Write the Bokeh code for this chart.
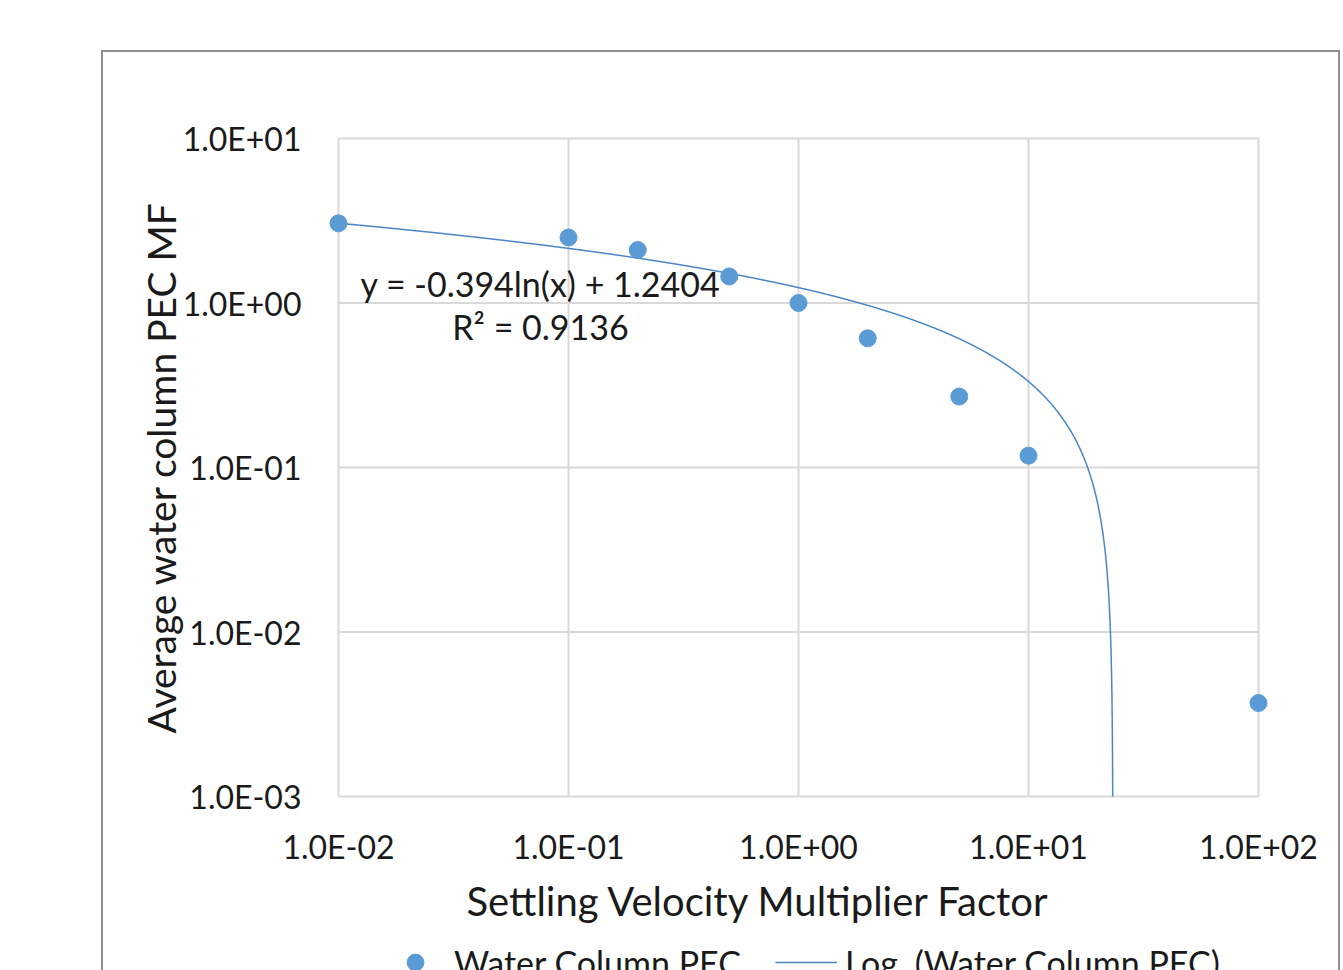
import numpy as np
from bokeh.plotting import figure
from bokeh.layouts import column
from bokeh.models import Range1d, FixedTicker, Legend, LegendItem, Label, Title
from bokeh.embed import file_html
from bokeh.resources import INLINE

# ---- data ----
multiplier = [0.01, 0.1, 0.2, 0.5, 1.0, 2.0, 5.0, 10.0, 100.0]
pec_mf = [3.05, 2.5, 2.1, 1.45, 1.0, 0.61, 0.27, 0.118, 0.0037]

# logarithmic trendline shown on the chart: y = a*ln(x) + b
trend_a = -0.394
trend_b = 1.2404
trend_eq_text = "y = -0.394ln(x) + 1.2404"
trend_r2_text = "R² = 0.9136"

x_ticks = [0.01, 0.1, 1.0, 10.0, 100.0]
x_tick_labels = ["1.0E-02", "1.0E-01", "1.0E+00", "1.0E+01", "1.0E+02"]
y_ticks = [0.001, 0.01, 0.1, 1.0, 10.0]
y_tick_labels = ["1.0E-03", "1.0E-02", "1.0E-01", "1.0E+00", "1.0E+01"]

x_title = "Settling Velocity Multiplier Factor"
y_title = "Average water column PEC MF"
series_name = "Water Column PEC"
trend_name = "Log. (Water Column PEC)"

# trendline curve evaluated from the displayed equation, down to the axis floor
y_floor = y_ticks[0]
x_end = np.exp((y_floor - trend_b) / trend_a)
tx = np.logspace(np.log10(multiplier[0]), np.log10(x_end), 3000)
ty = trend_a * np.log(tx) + trend_b
ty = np.maximum(ty, y_floor)

FONT = "Lato"
TXT = "#1a1a1a"
BLUE = "#5B9BD5"
LINEBLUE = "#4a86c6"
GRID = "#d9d9d9"
W = 1235

# plot area 920 x 658 px for the 4 x 4 decades, padded so edge markers/lines are not clipped
XPADPX, YPADPX = 10, 2
xpad = XPADPX / 230.0
ypad = YPADPX / 164.5
x0, x1 = np.log10(x_ticks[0]) - xpad, np.log10(x_ticks[-1]) + xpad
y0, y1 = np.log10(y_ticks[0]) - ypad, np.log10(y_ticks[-1]) + ypad

TOP, BOTTOM = 86 - YPADPX, 145
p = figure(width=W, height=TOP + 658 + 2 * YPADPX + BOTTOM, x_axis_type="log", y_axis_type="log",
           x_range=Range1d(10 ** x0, 10 ** x1), y_range=Range1d(10 ** y0, 10 ** y1),
           output_backend="svg", toolbar_location=None,
           min_border_left=235 - XPADPX, min_border_right=80 - XPADPX,
           min_border_top=TOP, min_border_bottom=BOTTOM)
p.outline_line_color = None
p.grid.visible = False

for ax, ticks, labels in ((p.xaxis[0], x_ticks, x_tick_labels), (p.yaxis[0], y_ticks, y_tick_labels)):
    ax.ticker = FixedTicker(ticks=ticks, minor_ticks=[])
    ax.major_label_overrides = {t: l for t, l in zip(ticks, labels)}
    ax.major_tick_line_color = None
    ax.minor_tick_line_color = None
    ax.major_tick_out = 0
    ax.major_tick_in = 0
    ax.axis_line_color = None
    ax.major_label_text_font = FONT
    ax.major_label_text_font_size = "32px"
    ax.major_label_text_color = TXT
    ax.axis_label_text_font = FONT
    ax.axis_label_text_font_size = "39px"
    ax.axis_label_text_font_style = "normal"
    ax.axis_label_text_color = TXT

p.yaxis.axis_label = y_title
p.xaxis.major_label_standoff = 28
p.yaxis.major_label_standoff = 27
p.yaxis.axis_label_standoff = -4

# grid lines (including plot-area edges) at each decade
p.segment(x0=[x_ticks[0]] * len(y_ticks), x1=[x_ticks[-1]] * len(y_ticks), y0=y_ticks, y1=y_ticks,
          line_color=GRID, line_width=2)
p.segment(x0=x_ticks, x1=x_ticks, y0=[y_ticks[0]] * len(x_ticks), y1=[y_ticks[-1]] * len(x_ticks),
          line_color=GRID, line_width=2)

p.line(tx, ty, line_color=LINEBLUE, line_width=1.5)
p.scatter(multiplier, pec_mf, size=17, fill_color=BLUE, line_color=BLUE)

eq_x = 10 ** ((540 - 338) / 230 - 2)
p.add_layout(Label(x=eq_x, y=1.305, text=trend_eq_text, text_align="center", text_baseline="middle",
                   text_font=FONT, text_font_size="34px", text_color=TXT))
p.add_layout(Label(x=eq_x, y=0.72, text=trend_r2_text, text_align="center", text_baseline="middle",
                   text_font=FONT, text_font_size="34px", text_color=TXT))

# x-axis title, centred on the whole chart area as in the reference (left of the plot centre)
xt = Title(text=x_title, align="left", offset=138, standoff=13,
           text_font=FONT, text_font_size="40px", text_font_style="normal", text_color=TXT)
p.add_layout(xt, "below")

# legend strip below the plot (same chart box); its sample glyphs sit outside the strip's range
p2 = figure(width=W, height=60, x_range=Range1d(0, 1), y_range=Range1d(0, 1),
            x_axis_location=None, y_axis_location=None, output_backend="svg", toolbar_location=None,
            min_border=0)
p2.outline_line_color = None
p2.grid.visible = False
leg_pts = p2.scatter(x=[-5], y=[-5], size=17, fill_color=BLUE, line_color=BLUE)
leg_line = p2.line(x=[-6, -5], y=[-5, -5], line_color=LINEBLUE, line_width=1.5)
legend = Legend(items=[LegendItem(label=series_name, renderers=[leg_pts]),
                       LegendItem(label=trend_name, renderers=[leg_line])],
                orientation="horizontal", location=(56, 20),
                label_text_font=FONT, label_text_font_size="34px", label_text_color=TXT,
                glyph_width=62, glyph_height=42, label_height=30, spacing=34, label_standoff=8,
                border_line_color=None, background_fill_alpha=0, padding=0, margin=0)
p2.add_layout(legend, "center")

chart = column(p, p2, spacing=0)
chart.margin = (50, 0, 0, 101)
chart.styles = {"border-top": "2px solid #8f8f8f", "border-left": "2px solid #8f8f8f",
                "border-right": "2px solid #8f8f8f"}

open("out.html", "w").write(file_html(chart, INLINE))
